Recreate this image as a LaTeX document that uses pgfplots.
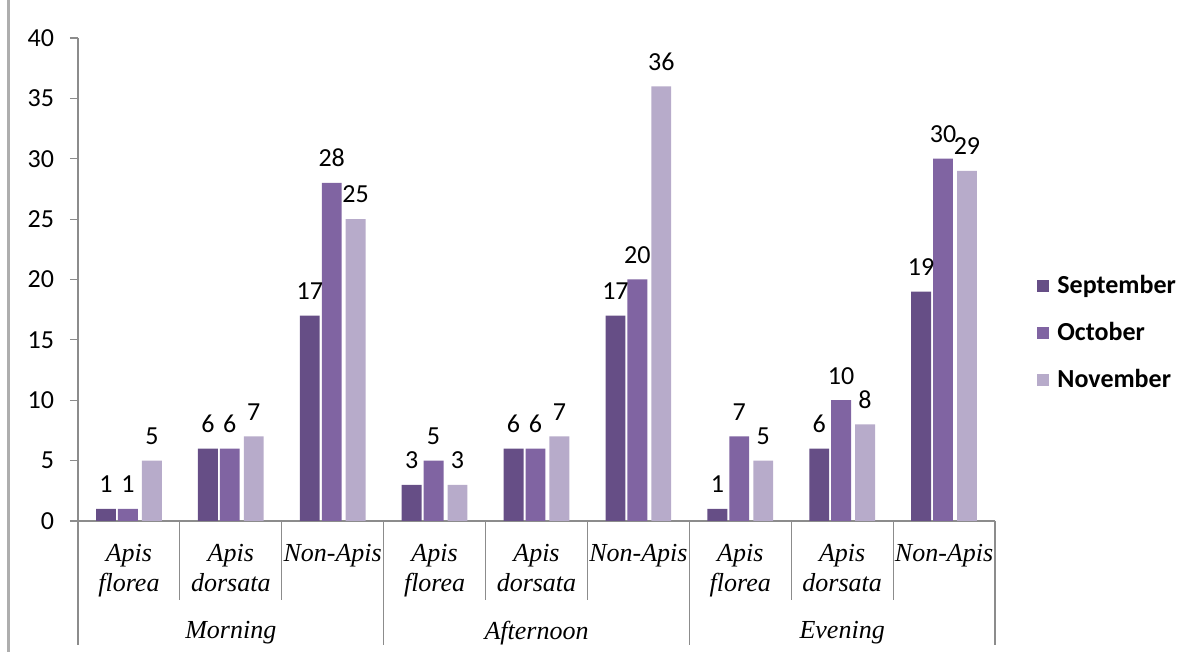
\documentclass[border=0pt]{standalone}
\usepackage{pgfplots}
\pgfplotsset{compat=1.18}
\usepackage{fontspec}
\setmainfont{Liberation Serif}
\newfontfamily\carlito{Carlito}
\definecolor{sep}{HTML}{664E86}
\definecolor{oct}{HTML}{8064A2}
\definecolor{nov}{HTML}{B7ABCA}
\definecolor{axg}{HTML}{8C8C8C}
\begin{document}
\begin{tikzpicture}
\useasboundingbox (0,0) rectangle (596pt,326pt);
\draw[axg!70, line width=1.2pt] (4.2pt,0) -- (4.2pt,326pt);
\begin{axis}[
  at={(39pt,65.5pt)}, anchor=south west,
  scale only axis, width=458.5pt, height=241.5pt,
  xmin=-0.5, xmax=8.5, ymin=0, ymax=40,
  axis x line*=bottom, axis y line*=left,
  axis line style={axg, line width=0.6pt, -},
  ytick={0,5,...,40},
  tick align=outside,
  major tick length=4pt,
  ytick style={axg, line width=0.6pt},
  yticklabel style={font=\carlito\fontsize{13}{15}\selectfont, xshift=-4.5pt, /pgf/number format/assume math mode=true},
  xtick={0,...,8},
  xtick style={draw=none},
  xticklabels={{Apis\\florea},{Apis\\dorsata},{Non-Apis},{Apis\\florea},{Apis\\dorsata},{Non-Apis},{Apis\\florea},{Apis\\dorsata},{Non-Apis}},
  xticklabel style={align=center, font=\itshape\fontsize{13}{15}\selectfont, anchor=north, yshift=-4pt},
  ybar, bar width=0.195,
  nodes near coords,
  nodes near coords style={font=\carlito\fontsize{13}{15}\selectfont, anchor=south, inner sep=0pt, yshift=7.8pt, /pgf/number format/assume math mode=true},
  legend style={draw=none, at={(1,0.389)}, anchor=west, xshift=21pt,
    font=\carlito\bfseries\fontsize{13}{15}\selectfont, row sep=9pt, inner sep=0pt},
  legend cell align=left,
  legend image code/.code={\fill[#1] (0pt,-3pt) rectangle (6pt,3pt); \path (8pt,0pt);},
  clip=false,
]
\addplot[fill=sep, draw=none, bar shift=-0.225] coordinates {(0,1) (1,6) (2,17) (3,3) (4,6) (5,17) (6,1) (7,6) (8,19)};
\addplot[fill=oct, draw=none, bar shift=-0.01] coordinates {(0,1) (1,6) (2,28) (3,5) (4,6) (5,20) (6,7) (7,10) (8,30)};
\addplot[fill=nov, draw=none, bar shift=0.225] coordinates {(0,5) (1,7) (2,25) (3,3) (4,7) (5,36) (6,5) (7,8) (8,29)};
\legend{September,October,November}
\draw[axg, line width=0.6pt] (axis cs:0.5,0) -- ([yshift=-39.5pt]axis cs:0.5,0);
\draw[axg, line width=0.6pt] (axis cs:1.5,0) -- ([yshift=-39.5pt]axis cs:1.5,0);
\draw[axg, line width=0.6pt] (axis cs:3.5,0) -- ([yshift=-39.5pt]axis cs:3.5,0);
\draw[axg, line width=0.6pt] (axis cs:4.5,0) -- ([yshift=-39.5pt]axis cs:4.5,0);
\draw[axg, line width=0.6pt] (axis cs:6.5,0) -- ([yshift=-39.5pt]axis cs:6.5,0);
\draw[axg, line width=0.6pt] (axis cs:7.5,0) -- ([yshift=-39.5pt]axis cs:7.5,0);
\draw[axg, line width=0.6pt] (axis cs:-0.5,0) -- ([yshift=-62pt]axis cs:-0.5,0);
\draw[axg, line width=0.6pt] (axis cs:2.5,0) -- ([yshift=-62pt]axis cs:2.5,0);
\draw[axg, line width=0.6pt] (axis cs:5.5,0) -- ([yshift=-62pt]axis cs:5.5,0);
\draw[axg, line width=0.6pt] (axis cs:8.5,0) -- ([yshift=-62pt]axis cs:8.5,0);
\node[font=\itshape\fontsize{13}{15}\selectfont] at ([yshift=-56pt]axis cs:1,0) {Morning};
\node[font=\itshape\fontsize{13}{15}\selectfont] at ([yshift=-56pt]axis cs:4,0) {Afternoon};
\node[font=\itshape\fontsize{13}{15}\selectfont] at ([yshift=-56pt]axis cs:7,0) {Evening};
\end{axis}
\end{tikzpicture}
\end{document}
